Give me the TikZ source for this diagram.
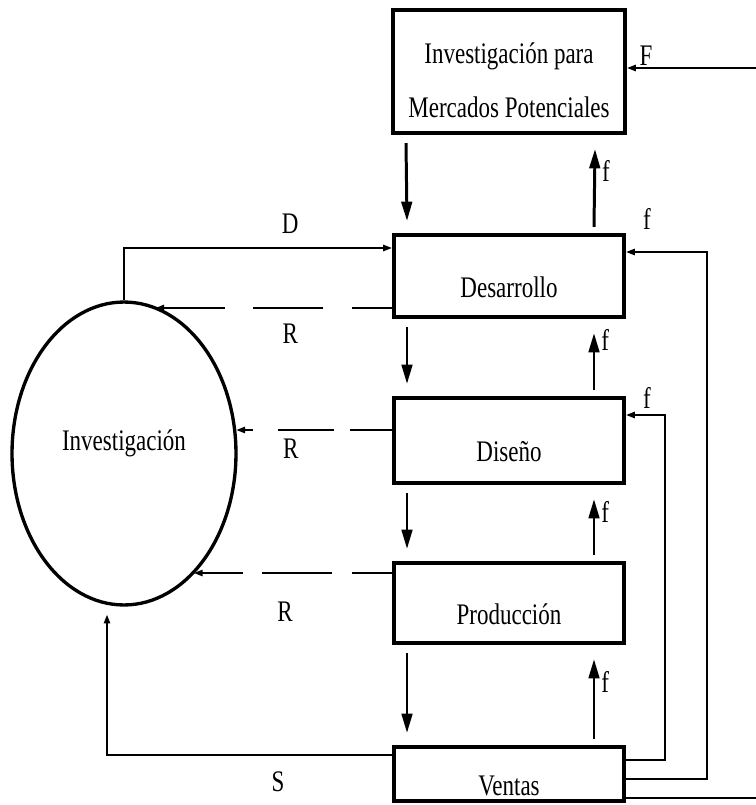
\documentclass[tikz,border=0pt]{standalone}
\usepackage{fontspec}
\setmainfont{Liberation Serif}[FakeStretch=0.77]
\usepackage{tikz}
\usetikzlibrary{arrows.meta}
\usetikzlibrary{positioning}
\usetikzlibrary{shapes.geometric}

\begin{document}
\begin{tikzpicture}[x=0.02cm,y=-0.02cm,font=\fontsize{17pt}{31pt}\selectfont,
  proc node/.style={draw,line width=2.3pt,minimum width=4.6cm,minimum height=1.64cm,
    inner sep=0pt,text height=0.85cm,text depth=0pt},
  top node/.style={proc node,minimum width=4.64cm,minimum height=2.46cm,
    align=center,text height=1.86cm},
  inv node/.style={ellipse,draw,line width=1.9pt,minimum width=4.48cm,minimum height=6.06cm,
    inner sep=0pt,text height=0.42cm,text depth=0.54cm},
  main arrow/.style={line width=1.7pt,-{Triangle[length=11pt,width=6pt]}},
  thin arrow/.style={line width=1.1pt,-{Triangle[length=5pt,width=3.5pt]}},
  back arrow/.style={thin arrow,dash pattern=on 40pt off 16pt,dash phase=17pt}]

  \path[use as bounding box] (0,0) rectangle (755,805);

  \node[top node] (top) at (509,71.5) {Investigación para\\Mercados Potenciales};
  \node[proc node] (des) [below=1.96cm of top] {Desarrollo};
  \node[proc node,minimum height=1.7cm] (dis) [below=1.54cm of des] {Diseño};
  \node[proc node,minimum height=1.6cm] (pro) [below=1.52cm of dis] {Producción};
  \node[proc node,minimum height=1.08cm] (ven) [below=2.0cm of pro] {Ventas};

  \node[inv node] (inv) at (124,453.5) {Investigación};

  \foreach \a/\b/\p in {top/des/0.72, des/dis/0.88, dis/pro/0.77, pro/ven/0.71} {
    \draw[main arrow] ([shift={(15,8)}]\a.south west) -- ([shift={(15,-12)}]\b.north west);
    \draw[main arrow] ([shift={(-32,-6)}]\b.north east) -- ([shift={(-32,14)}]\a.south east)
      node[pos=\p,right] {f};
  }

  % retornos desde ventas
  \draw[thin arrow] ([shift={(0,-14)}]ven.east) -- ++(39,0) |- ([shift={(0,-25.5)}]dis.east)
    node[pos=0.73,above] {f};
  \draw[thin arrow] ([shift={(0,5)}]ven.east) -- ++(81,0) |- ([shift={(0,-24)}]des.east)
    node[pos=0.87,above=0.32cm] {f};
  \draw[thin arrow] ([shift={(0,24)}]ven.east) -- ++(160,0) |- ([shift={(0,-3.5)}]top.east)
    node[pos=0.94,above,inner sep=1pt] {F};

  \coordinate (r1) at ([shift={(0,32)}]des.west);
  \coordinate (r2) at ([shift={(0,-10.5)}]dis.west);
  \coordinate (r3) at ([shift={(0,-30)}]pro.west);
  \coordinate (s) at ([shift={(0,-19)}]ven.west);

  \draw[thin arrow] (inv.north) |- ([shift={(0,-28)}]des.west) node[pos=0.81,above=0.16cm] {D};
  \draw[back arrow] (r1) -- (inv.78 |- r1) node[pos=0.43,below=0.18cm] {R};
  \draw[back arrow,dash pattern=on 24pt off 9pt on 32pt off 14pt,dash phase=0pt]
    (r2) -- (inv.12 |- r2) node[pos=0.65,below=0.04cm] {R};
  \draw[back arrow,dash pattern=on 40pt off 11pt] (r3) -- (inv.300 |- r3)
    node[pos=0.54,below=0.44cm] {R};
  \draw[thin arrow] (s) -| ([shift={(-17,8)}]inv.south) node[pos=0.2,below=0.2cm] {S};
\end{tikzpicture}
\end{document}
